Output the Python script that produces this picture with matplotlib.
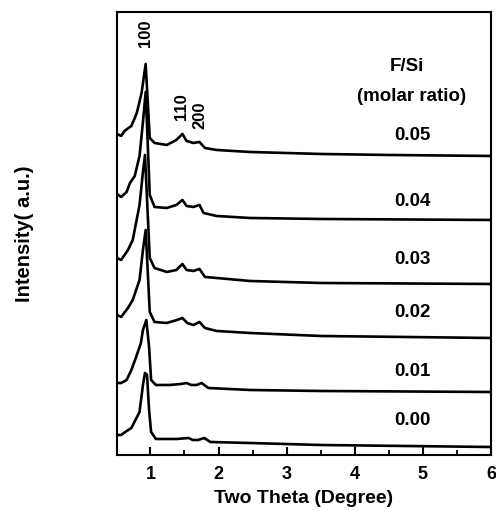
import numpy as np
import matplotlib
matplotlib.use('Agg')
import matplotlib.pyplot as plt
from matplotlib.ticker import MultipleLocator

plt.rcParams['font.family'] = ['Liberation Sans', 'DejaVu Sans']
plt.rcParams['font.weight'] = 'bold'

# F/Si molar ratio labels, top curve first
ratios = ['0.05', '0.04', '0.03', '0.02', '0.01', '0.00']

# curves (two theta in degree, intensity in a.u. incl. stacking offset)
x_005 = [0.51, 0.54, 0.57, 0.62, 0.68, 0.72, 0.77, 0.80, 0.87, 0.93, 0.99, 1.06, 1.24, 1.38, 1.47, 1.53, 1.63, 1.72, 1.80, 1.97, 2.46, 3.5, 4.5, 6.0]
y_005 = [321, 320, 319, 324, 327, 329, 337, 342, 362, 391, 317, 312, 310, 315, 321, 314, 312, 313, 307, 305, 303, 301, 300, 299]

x_004 = [0.51, 0.57, 0.65, 0.70, 0.77, 0.84, 0.89, 0.93, 0.99, 1.06, 1.24, 1.38, 1.47, 1.53, 1.63, 1.72, 1.78, 1.97, 2.46, 3.5, 6.0]
y_004 = [261, 258, 263, 272, 279, 299, 333, 363, 260, 248, 247, 250, 255, 249, 248, 250, 242, 239, 237, 236, 235]

x_003 = [0.51, 0.57, 0.67, 0.74, 0.84, 0.89, 0.92, 0.99, 1.06, 1.24, 1.38, 1.47, 1.53, 1.63, 1.72, 1.80, 1.97, 2.46, 3.5, 6.0]
y_003 = [197, 195, 205, 215, 250, 283, 300, 197, 187, 183, 185, 191, 185, 184, 186, 178, 177, 174, 172, 171]

x_002 = [0.51, 0.57, 0.67, 0.74, 0.79, 0.84, 0.89, 0.93, 0.99, 1.06, 1.24, 1.39, 1.47, 1.54, 1.63, 1.72, 1.80, 1.97, 2.46, 3.5, 6.0]
y_002 = [140, 138, 147, 155, 165, 175, 205, 225, 143, 133, 132, 135, 137, 132, 130, 133, 127, 124, 122, 119, 117]

x_001 = [0.51, 0.57, 0.65, 0.72, 0.79, 0.86, 0.89, 0.94, 0.98, 1.01, 1.08, 1.28, 1.45, 1.53, 1.60, 1.68, 1.75, 1.85, 2.46, 3.5, 6.0]
y_001 = [72, 72, 75, 85, 98, 112, 125, 135, 108, 75, 70, 70, 71, 72, 70, 70, 72, 67, 65, 64, 63]

x_000 = [0.51, 0.57, 0.63, 0.72, 0.84, 0.89, 0.92, 0.95, 0.98, 1.01, 1.08, 1.38, 1.56, 1.62, 1.70, 1.79, 1.88, 2.46, 3.5, 6.0]
y_000 = [20, 20, 23, 27, 43, 70, 82, 80, 45, 23, 16, 16, 17, 15, 15, 17, 13, 12, 10, 8]

curves_x = [x_005, x_004, x_003, x_002, x_001, x_000]
curves_y = [y_005, y_004, y_003, y_002, y_001, y_000]
label_y = [319, 253, 195, 142, 83, 34]

# reflection indices
hkl = ['100', '110', '200']
hkl_x = [0.93, 1.45, 1.72]
hkl_y = [422, 348, 340]

fig = plt.figure(figsize=(4.96, 5.11), dpi=100)
ax = fig.add_axes([0.236, 0.1096, 0.754, 0.867])

for xs, ys in zip(curves_x, curves_y):
	ax.plot(xs, ys, color='black', linewidth=1.9, solid_joinstyle='round')

for lab, ly in zip(ratios, label_y):
	ax.text(4.84, ly, lab, ha='center', va='center', fontsize=13.5, fontweight='bold')

ax.text(4.77, 388, 'F/Si', ha='center', va='center', fontsize=13.5, fontweight='bold')
ax.text(4.84, 358, '(molar ratio)', ha='center', va='center', fontsize=13.5, fontweight='bold')

for h, hx, hy in zip(hkl, hkl_x, hkl_y):
	ax.text(hx, hy, h, rotation=90, ha='center', va='center', fontsize=12, fontweight='bold')

ax.set_xlim(0.51, 6.0)
ax.set_ylim(0, 443)
ax.xaxis.set_major_locator(MultipleLocator(1))
ax.xaxis.set_minor_locator(MultipleLocator(0.5))
ax.tick_params(axis='x', which='major', direction='in', length=6, width=1.5, labelsize=13, pad=8)
ax.tick_params(axis='x', which='minor', direction='in', length=3.5, width=1.3)
ax.set_yticks([])
for lbl in ax.get_xticklabels():
	lbl.set_fontweight('bold')
for s in ax.spines.values():
	s.set_linewidth(1.5)

ax.set_xlabel('Two Theta (Degree)', fontsize=14, fontweight='bold', labelpad=5)
ax.set_ylabel('Intensity( a.u.)', fontsize=14.5, fontweight='bold', labelpad=60)

fig.savefig('out.png', dpi=100)
